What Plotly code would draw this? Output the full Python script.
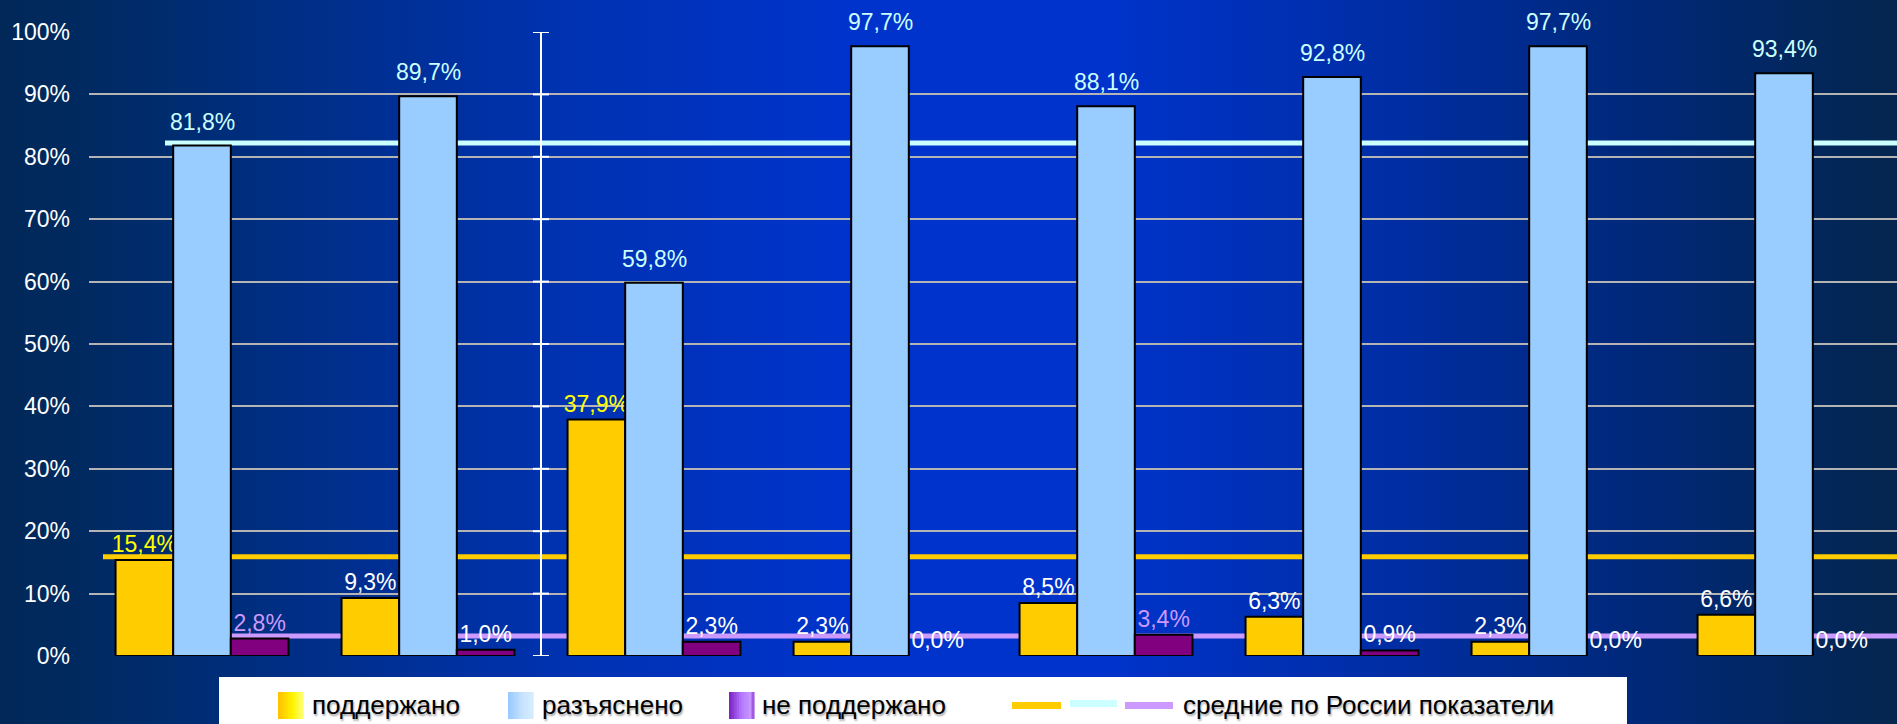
import plotly.graph_objects as go

W, H = 1897, 724

# ---------------- data ----------------
categories = ["Группа 1", "Группа 2", "Группа 3", "Группа 4",
              "Группа 5", "Группа 6", "Группа 7", "Группа 8"]
supported = [15.4, 9.3, 37.9, 2.3, 8.5, 6.3, 2.3, 6.6]          # поддержано
explained = [81.8, 89.7, 59.8, 97.7, 88.1, 92.8, 97.7, 93.4]    # разъяснено
not_supported = [2.8, 1.0, 2.3, 0.0, 3.4, 0.9, 0.0, 0.0]        # не поддержано
russia_avg = [15.9, 82.2, 3.2]                                  # средние по России
series_names = ["поддержано", "разъяснено", "не поддержано"]
avg_name = "средние по России показатели"
y_ticks = list(range(0, 101, 10))
y_tick_labels = [f"{v}%" for v in y_ticks]

# ---------------- styles ----------------
FONT = "Arial, 'Liberation Sans', sans-serif"
C_SUP, C_EXP, C_NOT = "#FFCC00", "#99CCFF", "#800080"
AVG_COLORS = ["#FFCC00", "#CCFFFF", "#CC99FF"]
sup_label_colors = ["#FFFF00", "#FFFFFF", "#FFFF00", "#FFFFFF", "#FFFFFF", "#FFFFFF", "#FFFFFF", "#FFFFFF"]
not_label_colors = ["#CC99FF", "#FFFFFF", "#FFFFFF", "#FFFFFF", "#CC99FF", "#FFFFFF", "#FFFFFF", "#FFFFFF"]
EXP_LABEL_COLOR = "#CCFFFF"

PLOT_L, PLOT_T, PLOT_B = 89, 32, 656   # plot area in pixels
CAT_W = (W - PLOT_L) / len(categories)


def px_x(px):
    return px / W


def px_y(py):
    return 1 - py / H


def fmt(v):
    return f"{v:.1f}%".replace(".", ",")


def lerp_color(stops, t):
    for (t0, c0), (t1, c1) in zip(stops[:-1], stops[1:]):
        if t0 <= t <= t1:
            f = 0 if t1 == t0 else (t - t0) / (t1 - t0)
            return "rgb(%d,%d,%d)" % tuple(round(a + (b - a) * f) for a, b in zip(c0, c1))
    return "rgb(%d,%d,%d)" % stops[-1][1]


shapes = []
annotations = []

# background horizontal gradient
bg_stops = [
    (0.00, (2, 40, 88)),
    (0.045, (0, 42, 96)),
    (0.15, (0, 46, 132)),
    (0.30, (0, 50, 178)),
    (0.45, (0, 51, 204)),
    (0.58, (0, 51, 204)),
    (0.72, (0, 46, 168)),
    (0.86, (0, 40, 122)),
    (1.00, (4, 38, 78)),
]
step = 8
n = (W + step - 1) // step
for i in range(n):
    x0 = i * step
    t = min(1.0, (x0 + step / 2) / W)
    shapes.append(dict(type="rect", xref="paper", yref="paper",
                       x0=px_x(x0), x1=px_x(x0 + step + 1), y0=0, y1=1,
                       fillcolor=lerp_color(bg_stops, t), line=dict(width=0),
                       layer="below"))

# Russian average lines (behind bars)
line_starts_px = [103, 165, 231]
for v, col, sx in zip(russia_avg, AVG_COLORS, line_starts_px):
    shapes.append(dict(type="line", xref="x", yref="y",
                       x0=(sx - PLOT_L) / CAT_W - 0.5, x1=len(categories) - 0.5,
                       y0=v, y1=v, line=dict(color=col, width=5), layer="between"))

# vertical separator with ticks
sep_x = 1.5
shapes.append(dict(type="line", xref="x", yref="y", x0=sep_x, x1=sep_x,
                   y0=y_ticks[0], y1=y_ticks[-1], line=dict(color="white", width=2),
                   layer="above"))
for v in y_ticks:
    shapes.append(dict(type="line", xref="x", yref="y", xsizemode="pixel",
                       xanchor=sep_x, x0=-8, x1=8, y0=v, y1=v,
                       line=dict(color="white", width=2), layer="above"))

# labels above blue bars (middle bar of each group = category centre)
for i, v in enumerate(explained):
    annotations.append(dict(x=i, y=v, xref="x", yref="y", text=fmt(v),
                            showarrow=False, yanchor="bottom", yshift=9,
                            font=dict(color=EXP_LABEL_COLOR, size=23, family=FONT)))

# ---------------- custom legend ----------------
shapes.append(dict(type="rect", xref="paper", yref="paper",
                   x0=px_x(219), x1=px_x(1627), y0=px_y(724), y1=px_y(677),
                   fillcolor="white", line=dict(width=0), layer="above"))


def swatch(x0, stops):
    w, k = 25, 10
    for j in range(k):
        t = (j + 0.5) / k
        shapes.append(dict(type="rect", xref="paper", yref="paper",
                           x0=px_x(x0 + j * w / k), x1=px_x(x0 + (j + 1) * w / k + 0.6),
                           y0=px_y(719), y1=px_y(692),
                           fillcolor=lerp_color(stops, t), line=dict(width=0),
                           layer="above"))


swatch(278, [(0, (255, 190, 0)), (0.6, (255, 245, 0)), (1, (255, 255, 120))])
swatch(508, [(0, (150, 200, 255)), (0.6, (200, 228, 255)), (1, (215, 236, 255))])
swatch(729, [(0, (120, 30, 190)), (0.5, (180, 120, 255)), (0.85, (200, 150, 255)), (1, (140, 60, 210))])

for (x0, x1, yc), col in zip([(1012, 1061, 705.5), (1070, 1117, 703.5), (1125, 1173, 705.5)], AVG_COLORS):
    shapes.append(dict(type="rect", xref="paper", yref="paper",
                       x0=px_x(x0), x1=px_x(x1), y0=px_y(yc + 3.5), y1=px_y(yc - 3.5),
                       fillcolor=col, line=dict(width=0), layer="above"))

legend_font = dict(color="black", size=26, family=FONT, shadow="1px 2px 2px rgba(0,0,0,0.35)")
for label, x0 in zip(series_names + [avg_name], [310, 540, 760, 1181]):
    annotations.append(dict(x=px_x(x0), y=px_y(705), xref="paper", yref="paper",
                            text=label, showarrow=False, xanchor="left", yanchor="middle",
                            font=legend_font))

# ---------------- traces ----------------
fig = go.Figure()
fig.add_trace(go.Bar(
    x=categories, y=supported, name=series_names[0],
    marker=dict(color=C_SUP, line=dict(color="black", width=2)),
    texttemplate="%{y:.1f}%", textposition="outside",
    textfont=dict(color=sup_label_colors, size=23, family=FONT),
    cliponaxis=False, constraintext="none", showlegend=False))
fig.add_trace(go.Bar(
    x=categories, y=explained, name=series_names[1],
    marker=dict(color=C_EXP, line=dict(color="black", width=2)),
    cliponaxis=False, showlegend=False))
fig.add_trace(go.Bar(
    x=categories, y=not_supported, name=series_names[2],
    marker=dict(color=C_NOT, line=dict(color="black",
                                       width=[2 if v > 0 else 0 for v in not_supported])),
    texttemplate="%{y:.1f}%", textposition="outside",
    textfont=dict(color=not_label_colors, size=23, family=FONT),
    cliponaxis=False, constraintext="none", showlegend=False))

fig.update_layout(
    width=W, height=H,
    autosize=False,
    margin=dict(l=0, r=0, t=0, b=0, autoexpand=False),
    paper_bgcolor="#022a5e",
    plot_bgcolor="rgba(0,0,0,0)",
    barmode="group", bargap=0.235, bargroupgap=0,
    separators=", ",
    showlegend=False,
    font=dict(family=FONT, size=23, color="white"),
    xaxis=dict(domain=[PLOT_L / W, 1], type="category",
               range=[-0.5, len(categories) - 0.5], automargin=False,
               showticklabels=False, showgrid=False, zeroline=False,
               showline=False, ticks=""),
    yaxis=dict(domain=[1 - PLOT_B / H, 1 - PLOT_T / H], range=[0, 100],
               automargin=False,
               tickmode="array", tickvals=y_ticks, ticktext=y_tick_labels,
               showgrid=True, gridcolor="#B4B4B4", gridwidth=2, zeroline=False,
               showline=False, ticks="", ticklabelstandoff=18,
               tickfont=dict(color="white", size=23, family=FONT)),
    shapes=shapes,
    annotations=annotations,
)

fig.write_html("out.html", config={"displayModeBar": False},
               post_script="document.body.style.margin='0';document.body.style.overflow='hidden';")
